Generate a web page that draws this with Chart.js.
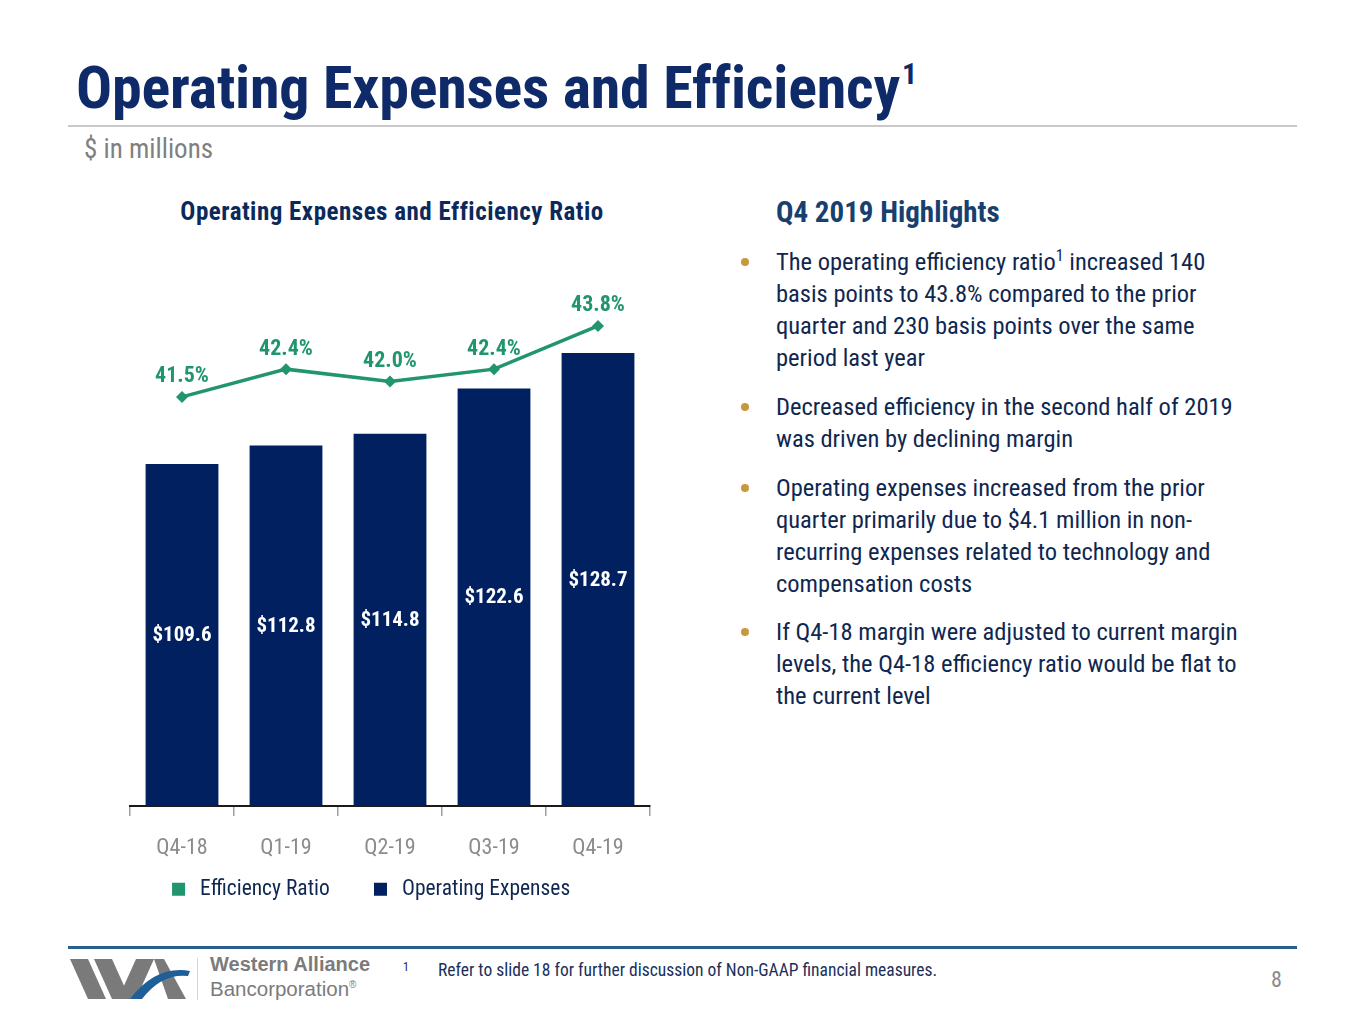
<!DOCTYPE html>
<html>
<head>
<meta charset="utf-8">
<script src="https://cdn.jsdelivr.net/npm/chart.js@4.4.1/dist/chart.umd.min.js"></script>
<style>
  html, body { margin: 0; padding: 0; background: #fff; }
  body { width: 1365px; height: 1024px; position: relative; overflow: hidden;
         font-family: "Roboto Condensed", "Liberation Sans", sans-serif; }
  .abs { position: absolute; white-space: nowrap; }
  #title { left: 76px; top: 53px; font-size: 60px; font-weight: bold; color: #0e2a68; line-height: 70px; letter-spacing: -0.2px; }
  #title sup { font-size: 30px; vertical-align: 24px; line-height: 0; margin-left: 2px; }
  #rule { left: 68px; top: 125px; width: 1229px; height: 2px; background: #c9c9c9; }
  #sub { left: 84px; top: 132px; font-size: 27px; color: #808080; line-height: 34px; }
  #chartTitle { left: 142px; width: 500px; text-align: center; top: 198px; font-size: 25px; font-weight: bold; color: #0b2a5b; line-height: 28px; letter-spacing: 0.5px; }
  #hlTitle { left: 776px; top: 195px; font-size: 29px; font-weight: bold; color: #17406f; line-height: 34px; }
  .para { left: 776px; font-size: 24.5px; color: #0f2750; line-height: 32px; }
  .para sup { font-size: 16px; vertical-align: 9px; line-height: 0; }
  .dot { position: absolute; left: -35px; top: 12px; width: 8px; height: 8px; border-radius: 50%; background: #c9973f; }
  #footRule { left: 68px; top: 946px; width: 1229px; height: 3px; background: #2a5f8f; }
  #note1 { left: 403px; top: 960px; font-size: 12px; color: #1a2f5a; }
  #note { left: 438px; top: 959px; font-size: 17.5px; color: #1a2f5a; line-height: 22px; }
  #page { left: 1271px; top: 967px; font-size: 22px; color: #8a8a8a; }
  #brand1 { left: 210px; top: 953px; font-size: 20px; font-weight: bold; color: #7b7b7b; font-family: "Liberation Sans", sans-serif; }
  #brand2 { left: 210px; top: 977px; font-size: 20.5px; color: #7b7b7b; font-family: "Liberation Sans", sans-serif; }
  #brand2 sup { font-size: 10px; vertical-align: 8px; }
  #chartBox { position: absolute; left: 86px; top: 250px; width: 584px; height: 660px; }
</style>
</head>
<body>
<div id="title" class="abs">Operating Expenses and Efficiency<sup>1</sup></div>
<div id="rule" class="abs"></div>
<div id="sub" class="abs">$ in millions</div>
<div id="chartTitle" class="abs">Operating Expenses and Efficiency Ratio</div>
<div id="hlTitle" class="abs">Q4 2019 Highlights</div>

<div class="abs para" style="top:246px"><span class="dot"></span>The operating efficiency ratio<sup>1</sup> increased 140<br>basis points to 43.8% compared to the prior<br>quarter and 230 basis points over the same<br>period last year</div>
<div class="abs para" style="top:391px"><span class="dot"></span>Decreased efficiency in the second half of 2019<br>was driven by declining margin</div>
<div class="abs para" style="top:472px"><span class="dot"></span>Operating expenses increased from the prior<br>quarter primarily due to $4.1 million in non-<br>recurring expenses related to technology and<br>compensation costs</div>
<div class="abs para" style="top:616px"><span class="dot"></span>If Q4-18 margin were adjusted to current margin<br>levels, the Q4-18 efficiency ratio would be flat to<br>the current level</div>

<div id="chartBox"><canvas id="chart-opex"></canvas></div>

<div id="footRule" class="abs"></div>
<svg class="abs" style="left:68px;top:955px" width="125" height="48" viewBox="0 0 125 48">
  <polygon points="2,4 20,4 38,44 20,44" fill="#7a7a7a"/>
  <polygon points="26,4 44,4 62,44 44,44" fill="#7a7a7a"/>
  <polygon points="50,44 68,44 86,4 68,4" fill="#7a7a7a"/>
  <polygon points="86,4 96,4 118,44 100,44" fill="#7a7a7a"/>
  <path d="M62,44 Q88,10 122,16 L120,21 Q94,18 74,44 Z" fill="#1f5f99"/>
</svg>
<div class="abs" style="left:197px;top:958px;width:1px;height:42px;background:#d5d5d5"></div>
<div id="brand1" class="abs">Western Alliance</div>
<div id="brand2" class="abs">Bancorporation<sup>®</sup></div>
<div id="note1" class="abs">1</div>
<div id="note" class="abs">Refer to slide 18 for further discussion of Non-GAAP financial measures.</div>
<div id="page" class="abs">8</div>

<script>
const quarters = ["Q4-18", "Q1-19", "Q2-19", "Q3-19", "Q4-19"];
const opExpenses = [109.6, 112.8, 114.8, 122.6, 128.7];
const efficiencyRatio = [41.5, 42.4, 42.0, 42.4, 43.8];

const navy = "#002060";
const green = "#21956c";
const fontFamily = '"Roboto Condensed", "Liberation Sans", sans-serif';

// labels inside the bars and above the points
const valueLabels = {
  id: "valueLabels",
  afterDatasetsDraw(chart) {
    const ctx = chart.ctx;
    const bottom = chart.chartArea.bottom;
    ctx.save();
    ctx.textAlign = "center";
    ctx.textBaseline = "middle";
    ctx.font = "bold 21px " + fontFamily;
    chart.getDatasetMeta(1).data.forEach((bar, i) => {
      ctx.fillStyle = "#ffffff";
      ctx.fillText("$" + opExpenses[i].toFixed(1), bar.x, (bar.y + bottom) / 2 + 1);
    });
    ctx.font = "bold 22px " + fontFamily;
    chart.getDatasetMeta(0).data.forEach((pt, i) => {
      ctx.fillStyle = green;
      ctx.fillText(efficiencyRatio[i].toFixed(1) + "%", pt.x, pt.y - 20);
    });
    ctx.restore();
  },
};

// the x axis box is kept short so the legend sits close; let its labels draw below it
const tickRoom = {
  id: "tickRoom",
  afterLayout(chart) {
    chart.scales.x.bottom = chart.height;
  },
};

const ctx = document.querySelector("#chart-opex").getContext("2d");
new Chart(ctx, {
  data: {
    labels: quarters,
    datasets: [
      {
        type: "line",
        label: "Efficiency Ratio",
        data: efficiencyRatio,
        yAxisID: "y1",
        order: 0,
        borderColor: green,
        backgroundColor: green,
        borderWidth: 3.5,
        pointStyle: "rectRot",
        pointRadius: 6,
        pointBackgroundColor: green,
        pointBorderWidth: 0,
        tension: 0,
      },
      {
        type: "bar",
        label: "Operating Expenses",
        data: opExpenses,
        yAxisID: "y",
        order: 1,
        backgroundColor: navy,
        borderWidth: 0,
        categoryPercentage: 1,
        barPercentage: 0.7,
      },
    ],
  },
  options: {
    responsive: true,
    maintainAspectRatio: false,
    animation: false,
    layout: { padding: { top: 33, left: 2, right: 20, bottom: 0 } },
    scales: {
      x: {
        grid: { drawOnChartArea: false, drawTicks: true, tickLength: 10, color: "#a0a0a0", lineWidth: 1.5 },
        border: { display: true, color: "#1a1a1a", width: 2 },
        ticks: { color: "#8c8c8c", padding: 21, font: { family: fontFamily, size: 22, lineHeight: 1 } },
        afterFit(scale) {
          scale.height = 32.5;
        },
      },
      y: {
        display: true,
        min: 50.75,
        max: 140.75,
        grid: { display: false },
        border: { display: false },
        ticks: { display: false },
        afterFit(scale) {
          scale.width = 42;
        },
      },
      y1: {
        display: false,
        min: 28.25,
        max: 45.19,
      },
    },
    plugins: {
      legend: {
        position: "bottom",
        labels: {
          usePointStyle: true,
          boxHeight: 13,
          padding: 40,
          color: "#0f2750",
          font: { family: fontFamily, size: 21.5 },
          generateLabels(chart) {
            const items = Chart.defaults.plugins.legend.labels.generateLabels(chart);
            items.forEach((it) => {
              it.pointStyle = "rect";
              it.lineWidth = 0;
            });
            return items;
          },
        },
      },
      tooltip: { enabled: false },
    },
  },
  plugins: [valueLabels, tickRoom],
});
</script>
</body>
</html>
